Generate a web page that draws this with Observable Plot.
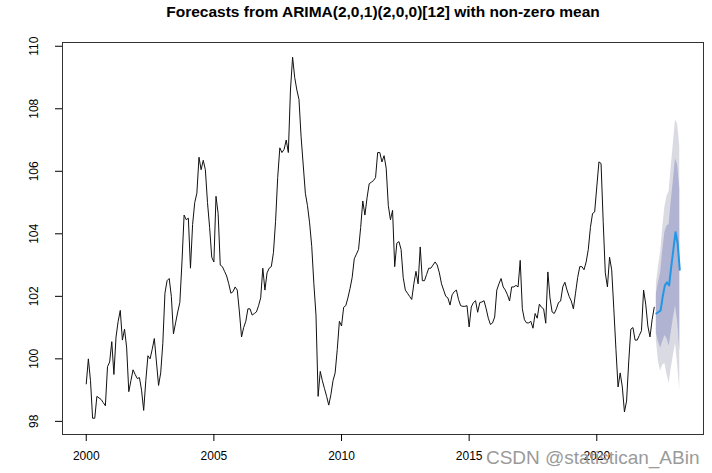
<!DOCTYPE html>
<html><head><meta charset="utf-8">
<script src="https://cdn.jsdelivr.net/npm/d3@7"></script>
<script src="https://cdn.jsdelivr.net/npm/@observablehq/plot@0.6"></script>
<style>body{margin:0;background:#fff}</style>
</head><body><div id="chart"></div>
<script>
const title = "Forecasts from ARIMA(2,0,1)(2,0,0)[12] with non-zero mean";
const watermark = "CSDN @statistican_ABin";
const startYear = 2000; // monthly series, Jan 2000 .. Apr 2022
const observed = [
  99.2, 100.0, 99.3, 98.1, 98.1, 98.8, 98.75, 98.7, 98.6, 98.5, 99.75, 99.9,
  100.55, 99.5, 100.7, 101.2, 101.55, 100.6, 100.95, 100.35, 98.95, 99.3, 99.65, 99.5,
  99.37, 99.4, 99.0, 98.35, 99.3, 100.1, 100.0, 100.3, 100.65, 99.9, 99.15, 99.55,
  100.5, 102.1, 102.5, 102.57, 102.0, 100.8, 101.15, 101.5, 101.8, 103.1, 104.6, 104.45,
  104.5, 102.9, 104.3, 105.0, 105.3, 106.45, 106.05, 106.35, 106.05, 105.0, 104.2, 103.25,
  103.1, 105.2, 104.65, 103.0, 102.95, 102.8, 102.65, 102.4, 102.1, 102.15, 102.3, 102.2,
  101.5, 100.7, 101.0, 101.2, 101.6, 101.6, 101.4, 101.45, 101.5, 101.7, 101.95, 102.9,
  102.2, 102.75, 102.9, 102.95, 103.4, 104.4, 105.8, 106.75, 106.6, 106.7, 107.0, 106.6,
  108.6, 109.65, 109.0, 108.6, 108.3, 107.1, 106.2, 105.3, 104.9, 104.35, 103.6, 102.4,
  101.4, 98.8, 99.6, 99.3, 99.05, 98.8, 98.52, 98.85, 99.3, 99.55, 100.3, 101.2,
  101.05, 101.65, 101.7, 101.95, 102.25, 102.6, 103.2, 103.35, 103.5, 104.2, 105.05, 104.6,
  105.15, 105.6, 105.65, 105.7, 105.8, 106.6, 106.6, 106.3, 106.5, 106.1, 104.9, 104.45,
  104.75, 102.95, 103.7, 103.75, 103.5, 102.6, 102.2, 102.1, 102.0, 101.9, 102.4, 102.8,
  102.4, 103.58, 102.5, 102.5, 102.7, 102.9, 102.9, 103.0, 103.1, 103.0, 102.75, 102.4,
  102.2, 102.0, 101.95, 101.72, 102.05, 102.15, 102.2, 101.9, 101.7, 101.68, 101.68, 101.7,
  101.02, 101.66, 101.8, 101.86, 101.49, 101.8, 101.82, 101.86, 101.6, 101.3, 101.1, 101.15,
  101.34, 102.2, 102.4, 102.57, 102.3, 102.2, 102.05, 101.85, 102.3, 102.3, 102.35, 102.3,
  103.15, 101.6, 101.25, 101.15, 101.15, 101.2, 100.98, 101.45, 101.3, 101.75, 101.65, 101.6,
  101.14, 102.78, 101.95, 101.5, 101.45, 101.6, 101.8, 101.85, 102.3, 102.45, 102.2, 102.0,
  101.85, 101.6, 102.1, 102.6, 102.95, 102.95, 102.85, 103.1, 103.5, 104.2, 104.65, 104.7,
  105.5, 106.3, 106.25, 104.4, 102.75, 102.3, 103.25, 102.85, 101.6, 100.3, 99.1, 99.55,
  99.1, 98.3, 98.65, 99.9, 100.95, 101.0, 100.6, 100.6, 100.75, 100.9, 102.2, 101.75,
  101.05, 100.7, 101.25, 101.65
];
// 12-month forecast, May 2022 .. Apr 2023
const fcMean = [101.45, 101.5, 101.55, 102.0, 102.35, 102.45, 102.35, 102.95, 103.5, 104.05, 103.7, 102.85];
const lo80 = [100.83, 100.55, 100.35, 100.55, 100.75, 100.65, 100.4, 100.85, 101.3, 101.7, 101.2, 100.25];
const hi80 = [102.07, 102.45, 102.75, 103.45, 104.05, 104.25, 104.3, 105.05, 105.7, 106.4, 106.2, 105.45];
const lo95 = [100.6, 99.9, 99.6, 99.8, 99.85, 99.5, 99.2, 99.7, 100.1, 100.5, 99.8, 99.0];
const hi95 = [102.4, 102.95, 103.4, 104.2, 104.85, 105.2, 105.35, 106.15, 106.9, 107.65, 107.5, 106.8];
const xTicks = [2000, 2005, 2010, 2015, 2020];
const yTicks = [98, 100, 102, 104, 106, 108, 110];

const obs = observed.map((v, i) => ({t: startYear + i / 12, v}));
const fc = fcMean.map((m, i) => ({
  t: startYear + (observed.length + i) / 12,
  mean: m, lo80: lo80[i], hi80: hi80[i], lo95: lo95[i], hi95: hi95[i]
}));

const chart = Plot.plot({
  width: 712, height: 473,
  marginLeft: 62, marginRight: 9, marginTop: 42, marginBottom: 39,
  style: {fontFamily: "'Liberation Sans', Arial, sans-serif", fontSize: "12px", background: "white", color: "black"},
  x: {domain: [1999.07, 2024.18], axis: null},
  y: {domain: [97.58, 110.12], axis: null},
  marks: [
    Plot.areaY(fc, {x: "t", y1: "lo95", y2: "hi95", fill: "#dadae3"}),
    Plot.areaY(fc, {x: "t", y1: "lo80", y2: "hi80", fill: "#b0b3d1"}),
    Plot.line(obs, {x: "t", y: "v", stroke: "#111", strokeWidth: 1}),
    Plot.line(fc, {x: "t", y: "mean", stroke: "#2297E6", strokeWidth: 2}),
    Plot.frame({stroke: "#333", strokeWidth: 1}),
    Plot.axisX({ticks: xTicks, tickSize: 7, tickPadding: 10, tickFormat: d => String(d), fontSize: 12, label: null}),
    Plot.axisY({ticks: yTicks, tickSize: 7, tickFormat: () => "", label: null}),
    Plot.text(yTicks, {y: d => d, frameAnchor: "left", dx: -28, rotate: -90, text: d => String(d), fontSize: 12, textAnchor: "middle", lineAnchor: "middle"}),
    Plot.text([title], {frameAnchor: "top", dy: -30, text: d => d, fontWeight: "bold", fontSize: 15.5, lineAnchor: "middle"}),
    Plot.text([watermark], {frameAnchor: "bottom-right", dx: -4, dy: 23, text: d => d, fill: "#9a9a9a", fontSize: 19, textAnchor: "end", lineAnchor: "middle"})
  ]
});
document.getElementById("chart").appendChild(chart);
</script>
</body></html>
